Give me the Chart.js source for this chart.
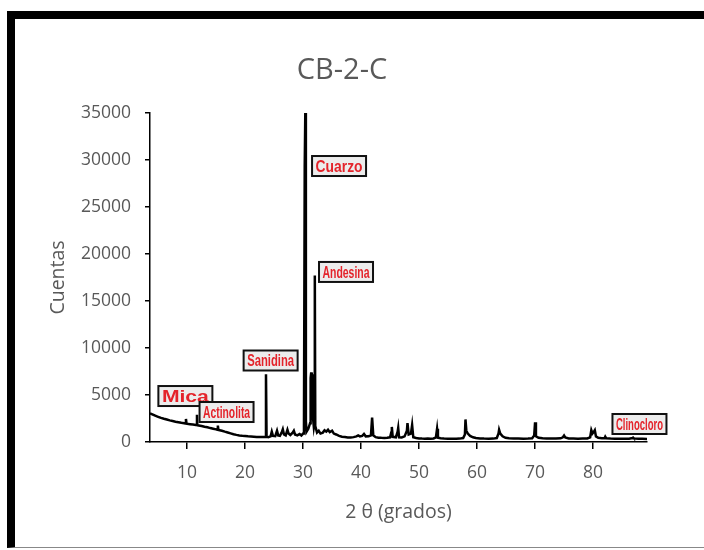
<!DOCTYPE html>
<html>
<head>
<meta charset="utf-8">
<script src="https://cdn.jsdelivr.net/npm/chart.js@4.4.1/dist/chart.umd.min.js"></script>
<style>
  html, body { margin:0; padding:0; background:#fff; overflow:hidden; }
  #wrap { position:relative; width:704px; height:550px; }
  #c { position:absolute; left:0; top:0; }
  #frame { position:absolute; left:7px; top:11px; width:720px; height:528px;
           border-top:8px solid #000; border-left:8px solid #000; border-bottom:1px solid #888;
           pointer-events:none; }
</style>
</head>
<body>
<div id="wrap">
  <canvas id="c" width="704" height="550"></canvas>
  <div id="frame"></div>
</div>
<script>
'use strict';
// ── Data ──────────────────────────────────────────────────
const twoTheta = [
  3.6, 4.0, 4.5, 5.0, 5.5, 6.0, 6.5, 7.0, 7.5, 8.0, 8.5, 9.0, 9.5, 9.7, 9.8, 9.9,
  10.5, 11.0, 11.5, 11.65, 11.7, 11.75, 12.0, 12.5, 13.0, 13.5, 14.0, 14.5, 15.0, 15.2, 15.3, 15.4,
  16.0, 16.5, 17.0, 17.5, 18.0, 18.5, 19.0, 19.5, 20.0, 20.5, 21.0, 21.5, 22.0, 22.5, 23.0, 23.5,
  23.6, 23.7, 24.0, 24.4, 24.6, 24.8, 25.2, 25.5, 25.7, 26.0, 26.3, 26.5, 26.7, 27.0, 27.3, 27.5,
  27.8, 28.2, 28.4, 28.6, 29.0, 29.4, 29.7, 30.0, 30.15, 30.28, 30.38, 30.48, 30.6, 30.9, 31.2, 31.3,
  31.4, 31.5, 31.6, 31.7, 31.85, 31.95, 32.02, 32.1, 32.4, 32.7, 33.0, 33.4, 33.7, 34.0, 34.3, 34.6,
  35.0, 35.3, 35.7, 36.2, 36.7, 37.2, 37.7, 38.2, 38.7, 39.2, 39.5, 39.8, 40.2, 40.5, 40.8, 41.3,
  41.7, 41.9, 42.1, 42.5, 43.0, 43.5, 44.0, 44.5, 45.0, 45.2, 45.3, 45.45, 46.0, 46.3, 46.4, 46.55,
  47.0, 47.5, 47.9, 48.0, 48.2, 48.6, 48.8, 49.0, 49.5, 50.0, 50.5, 51.0, 51.5, 52.0, 52.5, 52.9,
  53.1, 53.25, 53.7, 54.3, 55.0, 55.7, 56.4, 57.0, 57.6, 57.9, 58.0, 58.15, 58.4, 58.8, 59.3, 59.8,
  60.5, 61.2, 62.0, 62.8, 63.4, 63.7, 63.8, 64.0, 64.4, 64.9, 65.5, 66.3, 67.1, 68.0, 68.8, 69.5,
  69.85, 70.0, 70.15, 70.6, 71.3, 72.0, 72.8, 73.6, 74.4, 74.8, 75.0, 75.2, 75.8, 76.6, 77.4, 78.2,
  79.0, 79.5, 79.7, 79.9, 80.1, 80.3, 80.5, 80.9, 81.5, 82.0, 82.1, 82.25, 83.0, 83.8, 84.6, 85.4,
  86.2, 86.8, 86.9, 87.05, 87.8, 88.5, 89.3
];
const counts = [
  3050, 2950, 2800, 2680, 2560, 2470, 2390, 2300, 2230, 2160, 2100, 2040, 1990, 1960, 2450, 1950,
  1900, 1860, 1820, 1800, 2900, 1790, 1760, 1700, 1620, 1560, 1480, 1410, 1340, 1300, 1750, 1290,
  1200, 1100, 1010, 920, 830, 760, 700, 660, 630, 600, 580, 560, 540, 530, 520, 530,
  7200, 560, 520, 600, 1100, 650, 620, 1200, 700, 650, 1000, 1350, 800, 700, 1300, 900,
  750, 1000, 1200, 800, 700, 850, 700, 900, 1600, 29300, 35100, 2200, 1100, 1400, 2000, 6800,
  7400, 6600, 7200, 2600, 1600, 2000, 17700, 1700, 1000, 1200, 900, 1000, 1250, 1100, 1300, 1050,
  1200, 900, 800, 650, 560, 520, 480, 470, 520, 600, 700, 600, 650, 850, 600, 620,
  700, 2600, 700, 520, 460, 440, 430, 450, 500, 1000, 1600, 550, 500, 1100, 1500, 500,
  480, 600, 1200, 2000, 800, 900, 1800, 500, 420, 380, 360, 350, 360, 350, 380, 500,
  1400, 450, 400, 360, 340, 350, 340, 360, 420, 800, 2400, 1200, 900, 650, 500, 420,
  380, 360, 350, 360, 420, 900, 1300, 900, 600, 450, 390, 370, 360, 350, 360, 400,
  700, 2100, 600, 450, 390, 370, 360, 360, 390, 500, 680, 480, 380, 360, 350, 360,
  380, 500, 1250, 900, 1050, 1250, 600, 450, 390, 420, 560, 400, 360, 350, 340, 340,
  350, 420, 460, 380, 350, 340, 330
];
const xTicks = [10, 20, 30, 40, 50, 60, 70, 80];
const yTicks = [0, 5000, 10000, 15000, 20000, 25000, 30000, 35000];

// phase labels, anchored at (2θ, cuentas) of the box centre
const phaseNames = ['Mica', 'Actinolita', 'Sanidina', 'Cuarzo', 'Andesina', 'Clinocloro'];
const phaseX = [9.7, 16.8, 24.4, 36.2, 37.4, 88.0];
const phaseY = [4890, 3190, 8670, 29360, 18090, 1915];

const FONT = "'Open Sans', 'DejaVu Sans', sans-serif";
const GREY = '#595959';

// ── Plugins ───────────────────────────────────────────────
const titlePlugin = {
  id: 'fixedTitle',
  afterDraw(chart) {
    const ctx = chart.ctx;
    ctx.save();
    ctx.fillStyle = GREY;
    ctx.font = `29px ${FONT}`;
    ctx.textAlign = 'center';
    ctx.textBaseline = 'middle';
    ctx.fillText('CB-2-C', 342, 71);
    ctx.restore();
  }
};

const phasePlugin = {
  id: 'phaseLabels',
  afterDraw(chart) {
    const { ctx, scales: { x, y } } = chart;
    const W = 54, H = 20;
    phaseNames.forEach((name, i) => {
      const cx = x.getPixelForValue(phaseX[i]);
      const cy = y.getPixelForValue(phaseY[i]);
      ctx.save();
      ctx.fillStyle = '#ececec';
      ctx.fillRect(cx - W / 2, cy - H / 2, W, H);
      ctx.lineWidth = 2;
      ctx.strokeStyle = '#111';
      ctx.strokeRect(cx - W / 2, cy - H / 2, W, H);
      ctx.font = "bold 17px 'Liberation Sans Narrow', 'Liberation Sans', sans-serif";
      const tw = ctx.measureText(name).width;
      const sx = (W - 7) / tw;
      ctx.translate(cx, cy + 1);
      ctx.scale(sx, 1);
      ctx.fillStyle = '#e4232a';
      ctx.textAlign = 'center';
      ctx.textBaseline = 'middle';
      ctx.fillText(name, 0, 0);
      ctx.restore();
    });
  }
};

// ── Chart ─────────────────────────────────────────────────
new Chart(document.getElementById('c').getContext('2d'), {
  type: 'line',
  data: {
    datasets: [{
      data: twoTheta.map((t, i) => ({ x: t, y: counts[i] })),
      borderColor: '#000', borderWidth: 2.5, pointRadius: 0, tension: 0, fill: false
    }]
  },
  options: {
    responsive: false, animation: false,
    layout: { padding: { left: 47, right: 57, top: 113, bottom: 26 } },
    plugins: { legend: { display: false }, tooltip: { enabled: false } },
    scales: {
      x: {
        type: 'linear', min: 3.6, max: 89.3,
        afterBuildTicks: s => { s.ticks = xTicks.map(v => ({ value: v })); },
        afterFit: s => { s.height = 82; },
        grid: { display: true, drawOnChartArea: false, drawTicks: true, tickLength: 7, color: '#000', lineWidth: 1.5 },
        border: { display: true, color: '#000', width: 1.5 },
        ticks: { color: GREY, font: { family: FONT, size: 17.5 }, padding: 14, maxRotation: 0, autoSkip: false },
        title: { display: true, text: '2 θ (grados)', color: GREY, font: { family: FONT, size: 19.5 }, padding: 0 }
      },
      y: {
        min: 0, max: 35000,
        afterBuildTicks: s => { s.ticks = yTicks.map(v => ({ value: v })); },
        afterFit: s => { s.width = 103; },
        grid: { display: true, drawOnChartArea: false, drawTicks: true, tickLength: 5, color: '#000', lineWidth: 1.5 },
        border: { display: true, color: '#000', width: 1.5 },
        ticks: { color: GREY, font: { family: FONT, size: 17.5 }, padding: 14, callback: v => String(v) },
        title: { display: true, text: 'Cuentas', color: GREY, font: { family: FONT, size: 19.5 }, padding: 0 }
      }
    }
  },
  plugins: [titlePlugin, phasePlugin]
});
</script>
</body>
</html>
